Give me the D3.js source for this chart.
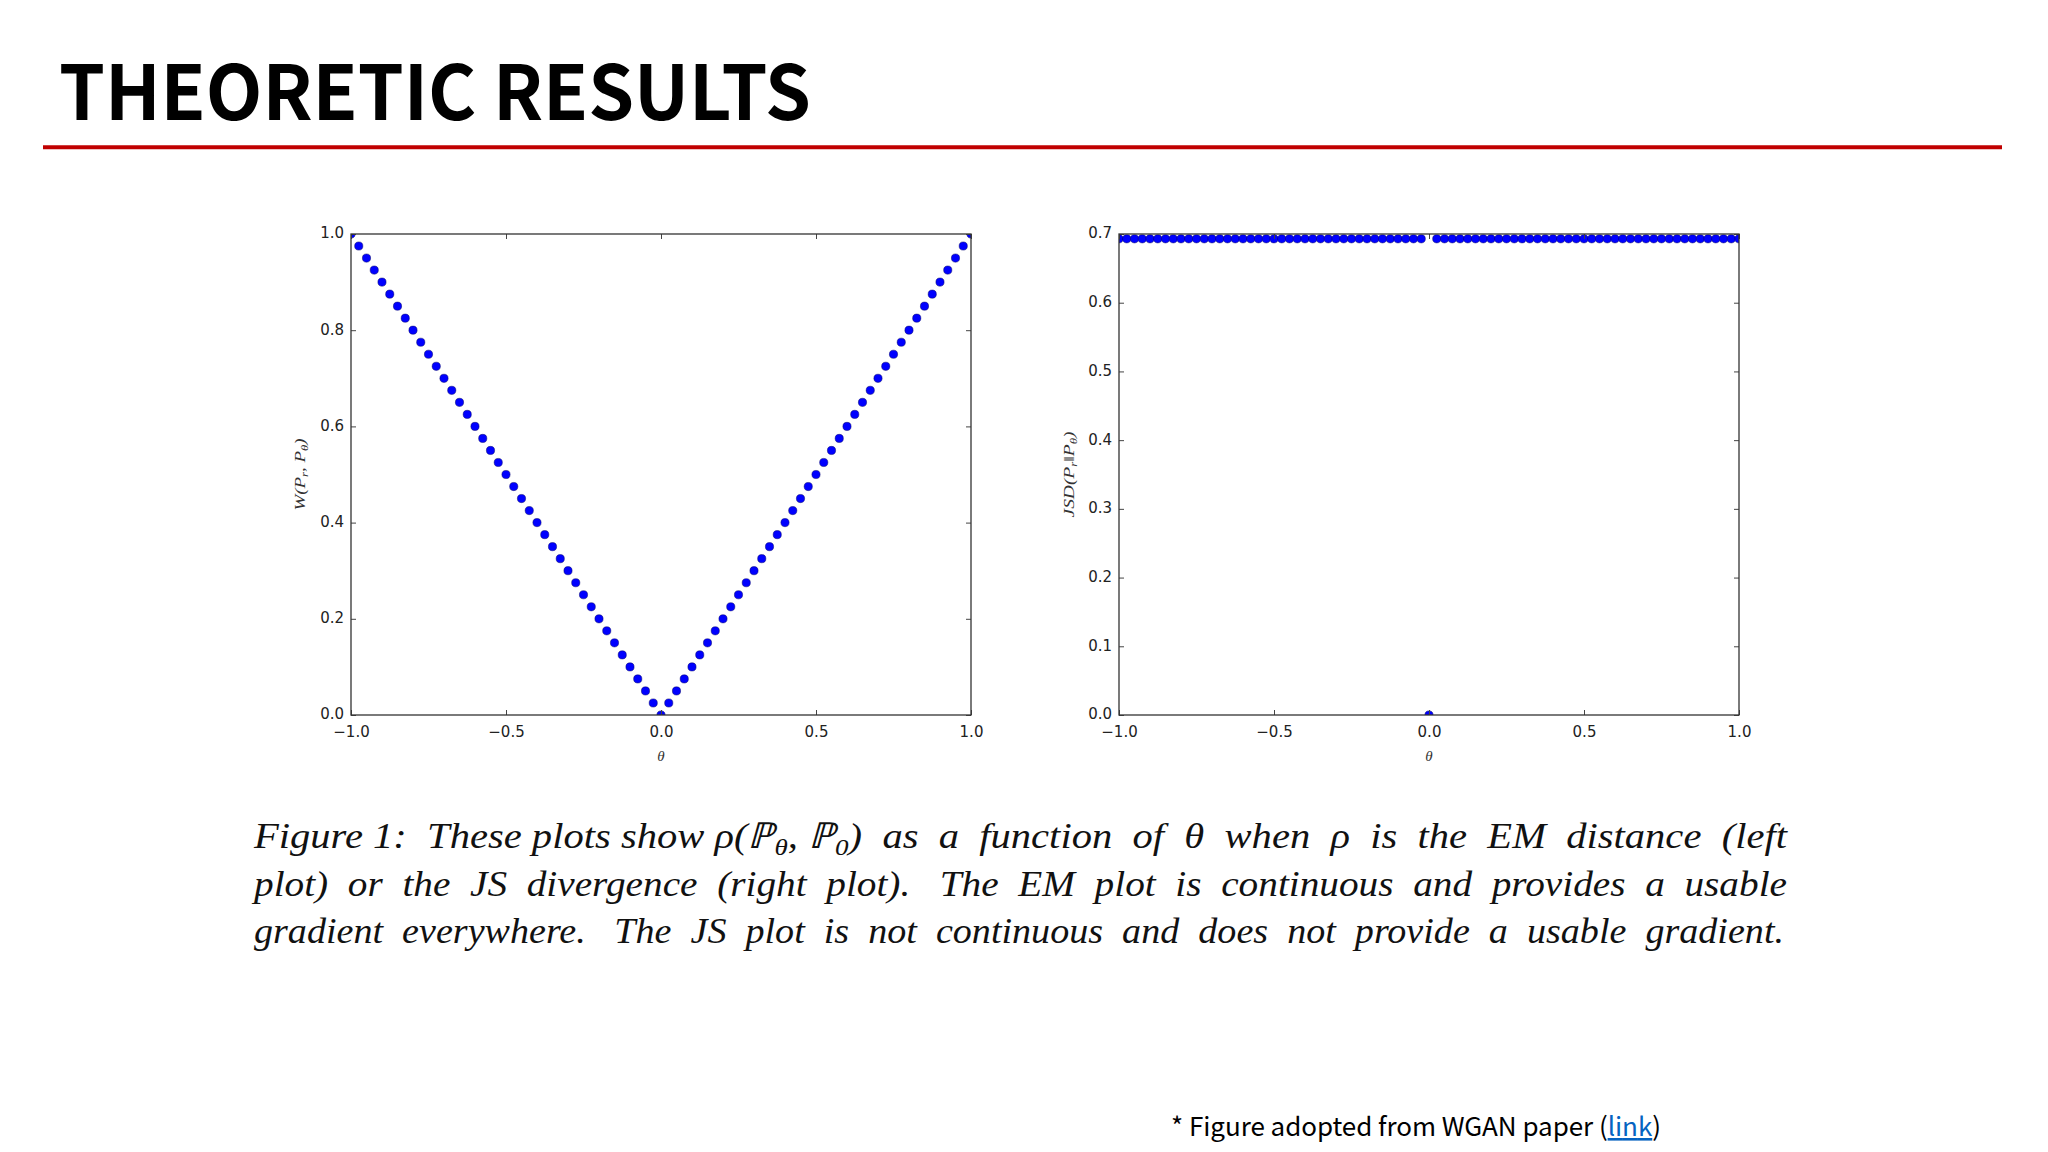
<!DOCTYPE html>
<html>
<head>
<meta charset="utf-8">
<script src="https://cdn.jsdelivr.net/npm/d3@7"></script>
<style>
  html, body { margin: 0; padding: 0; background: #ffffff; }
  svg { display: block; }
  text { white-space: pre; }
</style>
</head>
<body>
<svg id="chart" width="2048" height="1152"></svg>
<script>
// ---------------- data ----------------
const theta = [-1.0,-0.975,-0.95,-0.925,-0.9,-0.875,-0.85,-0.825,-0.8,-0.775,-0.75,-0.725,-0.7,-0.675,-0.65,-0.625,-0.6,-0.575,-0.55,-0.525,-0.5,-0.475,-0.45,-0.425,-0.4,-0.375,-0.35,-0.325,-0.3,-0.275,-0.25,-0.225,-0.2,-0.175,-0.15,-0.125,-0.1,-0.075,-0.05,-0.025,0.0,0.025,0.05,0.075,0.1,0.125,0.15,0.175,0.2,0.225,0.25,0.275,0.3,0.325,0.35,0.375,0.4,0.425,0.45,0.475,0.5,0.525,0.55,0.575,0.6,0.625,0.65,0.675,0.7,0.725,0.75,0.775,0.8,0.825,0.85,0.875,0.9,0.925,0.95,0.975,1.0];
const emDistance = [1.0,0.975,0.95,0.925,0.9,0.875,0.85,0.825,0.8,0.775,0.75,0.725,0.7,0.675,0.65,0.625,0.6,0.575,0.55,0.525,0.5,0.475,0.45,0.425,0.4,0.375,0.35,0.325,0.3,0.275,0.25,0.225,0.2,0.175,0.15,0.125,0.1,0.075,0.05,0.025,0.0,0.025,0.05,0.075,0.1,0.125,0.15,0.175,0.2,0.225,0.25,0.275,0.3,0.325,0.35,0.375,0.4,0.425,0.45,0.475,0.5,0.525,0.55,0.575,0.6,0.625,0.65,0.675,0.7,0.725,0.75,0.775,0.8,0.825,0.85,0.875,0.9,0.925,0.95,0.975,1.0];
const jsDivergence = [0.693,0.693,0.693,0.693,0.693,0.693,0.693,0.693,0.693,0.693,0.693,0.693,0.693,0.693,0.693,0.693,0.693,0.693,0.693,0.693,0.693,0.693,0.693,0.693,0.693,0.693,0.693,0.693,0.693,0.693,0.693,0.693,0.693,0.693,0.693,0.693,0.693,0.693,0.693,0.693,0.0,0.693,0.693,0.693,0.693,0.693,0.693,0.693,0.693,0.693,0.693,0.693,0.693,0.693,0.693,0.693,0.693,0.693,0.693,0.693,0.693,0.693,0.693,0.693,0.693,0.693,0.693,0.693,0.693,0.693,0.693,0.693,0.693,0.693,0.693,0.693,0.693,0.693,0.693,0.693,0.693];
const xTicks = [-1.0, -0.5, 0.0, 0.5, 1.0];
const yTicksLeft = [0.0, 0.2, 0.4, 0.6, 0.8, 1.0];
const yTicksRight = [0.0, 0.1, 0.2, 0.3, 0.4, 0.5, 0.6, 0.7];
const titleText = "THEORETIC RESULTS";
const captionLines = [
  [["Figure 1:  These plots show ρ(ℙ"],["θ","sub"],[", ℙ"],["0","sub"],[")  as  a  function  of  θ  when  ρ  is  the  EM  distance  (left"]],
  [["plot)  or  the  JS  divergence  (right  plot).   The  EM  plot  is  continuous  and  provides  a  usable"]],
  [["gradient  everywhere.   The  JS  plot  is  not  continuous  and  does  not  provide  a  usable  gradient."]]
];

// ---------------- drawing ----------------
const svg = d3.select("#chart");
svg.append("rect").attr("width", 2048).attr("height", 1152).attr("fill", "#ffffff");

// Title + rule
svg.append("text")
  .attr("x", 59).attr("y", 120)
  .attr("font-family", "'Noto Sans CJK KR', 'Open Sans', sans-serif")
  .attr("font-weight", 700)
  .attr("font-size", 76)
  .attr("fill", "#000")
  .attr("textLength", 752)
  .attr("lengthAdjust", "spacingAndGlyphs")
  .text(titleText);
svg.append("line")
  .attr("x1", 43).attr("x2", 2002).attr("y1", 147.3).attr("y2", 147.3)
  .attr("stroke", "#c00000").attr("stroke-width", 4);

const defs = svg.append("defs");
const tickFont = "'DejaVu Sans', 'Liberation Sans', sans-serif";
const fmt = d3.format(".1f");

function panel(id, x, y, yTicks, values, labelParts, labelX, labelLen) {
  const g = svg.append("g");
  const [x0, x1] = x.range();
  const [y0, y1] = y.range(); // y0 bottom, y1 top
  defs.append("clipPath").attr("id", id)
    .append("rect").attr("x", x0).attr("y", y1).attr("width", x1 - x0).attr("height", y0 - y1);

  // points
  g.append("g").attr("clip-path", `url(#${id})`)
    .selectAll("circle").data(theta.map((t, i) => [t, values[i]]))
    .join("circle")
    .attr("cx", d => x(d[0])).attr("cy", d => y(d[1]))
    .attr("r", 4.1)
    .attr("fill", "#0000ff").attr("stroke", "#00006a").attr("stroke-width", 0.5);

  const styleAxis = a => {
    a.select(".domain").remove();
    a.selectAll(".tick line").attr("stroke", "#444").attr("stroke-width", 1);
    a.selectAll(".tick text").attr("fill", "#222")
      .attr("font-family", tickFont).attr("font-size", 15);
  };
  g.append("g").attr("transform", `translate(0,${y0})`)
    .call(d3.axisBottom(x).tickValues(xTicks).tickFormat(fmt).tickSizeInner(-5).tickSizeOuter(0).tickPadding(11))
    .call(styleAxis);
  g.append("g").attr("transform", `translate(0,${y1})`)
    .call(d3.axisTop(x).tickValues(xTicks).tickFormat("").tickSizeInner(-5).tickSizeOuter(0))
    .call(styleAxis);
  const ya = g.append("g").attr("transform", `translate(${x0},0)`)
    .call(d3.axisLeft(y).tickValues(yTicks).tickFormat(fmt).tickSizeInner(-5).tickSizeOuter(0).tickPadding(7))
    .call(styleAxis);
  ya.selectAll(".tick text").attr("dy", "0.26em");
  g.append("g").attr("transform", `translate(${x1},0)`)
    .call(d3.axisRight(y).tickValues(yTicks).tickFormat("").tickSizeInner(-5).tickSizeOuter(0))
    .call(styleAxis);

  // frame
  g.append("rect").attr("x", x0).attr("y", y1).attr("width", x1 - x0).attr("height", y0 - y1)
    .attr("fill", "none").attr("stroke", "#333").attr("stroke-width", 1.3);

  // x label
  g.append("text").attr("x", x(0)).attr("y", 761)
    .attr("text-anchor", "middle").attr("font-family", "'Liberation Serif', serif")
    .attr("font-style", "italic").attr("font-size", 15).attr("fill", "#333").text("θ");

  // y label
  const yl = g.append("text")
    .attr("transform", `translate(${labelX},${(y0 + y1) / 2}) rotate(-90)`)
    .attr("text-anchor", "middle").attr("font-family", "'Liberation Serif', serif")
    .attr("font-style", "italic").attr("font-size", 15).attr("fill", "#333")
    .attr("textLength", labelLen).attr("lengthAdjust", "spacingAndGlyphs");
  labelParts.forEach(p => {
    const t = yl.append("tspan").text(p[0]);
    if (p[1] === "sub") t.attr("font-size", 10).attr("dy", 3);
    else if (p[1] === "back") t.attr("dy", -3);
  });
}

const xL = d3.scaleLinear().domain([-1, 1]).range([351, 971]);
const yL = d3.scaleLinear().domain([0, 1]).range([715, 234]);
const xR = d3.scaleLinear().domain([-1, 1]).range([1119, 1739]);
const yR = d3.scaleLinear().domain([0, 0.7]).range([715, 234]);

panel("clipL", xL, yL, yTicksLeft, emDistance,
  [["W(P"], ["r", "sub"], [", P", "back"], ["θ", "sub"], [")", "back"]], 305, 72);
panel("clipR", xR, yR, yTicksRight, jsDivergence,
  [["JSD(P"], ["r", "sub"], ["‖P", "back"], ["θ", "sub"], [")", "back"]], 1074, 86);

// Caption
const capBase = [848, 896, 943];
const capRight = [1787, 1787, 1784];
captionLines.forEach((parts, i) => {
  const t = svg.append("text")
    .attr("x", 254).attr("y", capBase[i])
    .attr("font-family", "'Liberation Serif', 'DejaVu Serif', serif")
    .attr("font-style", "italic").attr("font-size", 36).attr("fill", "#111")
    .attr("textLength", capRight[i] - 254).attr("lengthAdjust", "spacingAndGlyphs");
  parts.forEach((p, j) => {
    const s = t.append("tspan").text(p[0]);
    if (p[1] === "sub") s.attr("font-size", 24).attr("dy", 7);
    else if (j > 0 && parts[j - 1][1] === "sub") s.attr("dy", -7);
  });
});

// Footnote
const fn = svg.append("text")
  .attr("x", 1171).attr("y", 1136)
  .attr("font-family", "'Noto Sans CJK KR', 'Open Sans', sans-serif")
  .attr("font-size", 26).attr("fill", "#000")
  .attr("textLength", 490).attr("lengthAdjust", "spacing");
fn.append("tspan").text("* Figure adopted from WGAN paper (");
fn.append("tspan").attr("fill", "#0563c1").attr("text-decoration", "underline").text("link");
fn.append("tspan").text(")");
</script>
</body>
</html>
